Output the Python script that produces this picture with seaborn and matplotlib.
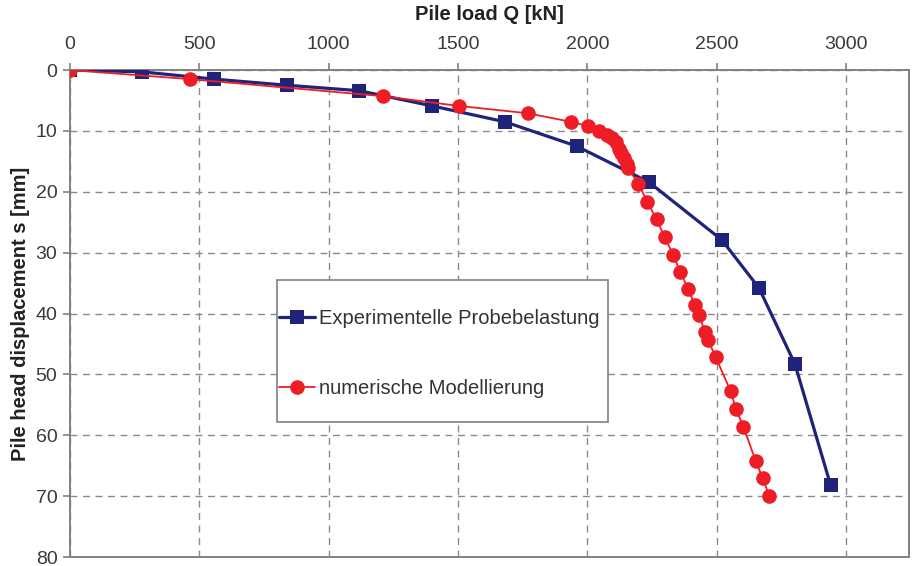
import matplotlib
matplotlib.use("Agg")
import matplotlib.pyplot as plt
from matplotlib.patches import Rectangle
import seaborn as sns
import pandas as pd

# Experimental load test (blue squares)
exp_load = [0, 278, 558, 838, 1118, 1400, 1680, 1958, 2237, 2519, 2663, 2802, 2940]
exp_disp = [0, 0.3, 1.5, 2.5, 3.4, 5.9, 8.5, 12.5, 18.4, 27.9, 35.8, 48.3, 68.2]

# Numerical modelling (red circles)
num_load = [0, 464, 1210, 1502, 1769, 1935, 2002, 2045, 2077, 2096, 2109, 2122, 2131,
            2141, 2152, 2157, 2197, 2231, 2267, 2299, 2332, 2358, 2389, 2415, 2432,
            2453, 2466, 2496, 2554, 2574, 2603, 2651, 2677, 2702]
num_disp = [0, 1.5, 4.3, 5.9, 7.1, 8.5, 9.2, 10.0, 10.7, 11.2, 11.9, 12.9, 13.7,
            14.5, 15.4, 16.1, 18.7, 21.6, 24.5, 27.5, 30.4, 33.1, 35.9, 38.6, 40.2,
            43.0, 44.3, 47.2, 52.8, 55.7, 58.6, 64.3, 67.0, 69.9]

x_ticks = [0, 500, 1000, 1500, 2000, 2500, 3000]
y_ticks = [0, 10, 20, 30, 40, 50, 60, 70, 80]
label_exp = "Experimentelle Probebelastung"
label_num = "numerische Modellierung"

sns.set_theme(style="white")
plt.rcParams['font.family'] = ['Liberation Sans', 'DejaVu Sans']

df_exp = pd.DataFrame({"Q": exp_load, "s": exp_disp})
df_num = pd.DataFrame({"Q": num_load, "s": num_disp})

fig = plt.figure(figsize=(9.17, 5.66), dpi=100)
ax = fig.add_axes([0.0763, 0.0159, 0.9150, 0.8604])

blue = "#1f237a"
red = "#ee1c25"

sns.lineplot(data=df_exp, x="Q", y="s", sort=False, ax=ax, color=blue,
             linewidth=2.3, marker="s", markersize=10, markeredgewidth=0,
             label=label_exp, zorder=3)
sns.lineplot(data=df_num, x="Q", y="s", sort=False, ax=ax, color=red,
             linewidth=1.3, marker="o", markersize=10.5, markeredgewidth=0,
             label=label_num, zorder=4)

ax.set_xlim(0, 3243)
ax.set_ylim(80, 0)
ax.set_xticks(x_ticks)
ax.set_yticks(y_ticks)
ax.xaxis.tick_top()
ax.xaxis.set_label_position("top")
ax.set_xlabel("Pile load Q [kN]", fontsize=14.5, fontweight="bold", labelpad=11, color="#222222")
ax.set_ylabel("Pile head displacement s [mm]", fontsize=14.5, fontweight="bold", labelpad=4, color="#222222")
ax.tick_params(axis="both", labelsize=14, colors="#808080", labelcolor="#3a3a3a",
               length=5, width=1.2, direction="out")
ax.tick_params(axis="x", top=True, bottom=False, pad=7.6)
ax.tick_params(axis="y", left=True, pad=4)

ax.grid(True, linestyle=(0, (5, 4)), color="#8a8a8a", linewidth=1.0)
ax.set_axisbelow(True)
for sp in ax.spines.values():
    sp.set_visible(True)
    sp.set_color("#808080")
    sp.set_linewidth(1.4)

# legend frame
ax.add_patch(Rectangle((0.2467, 0.2772), 0.3945, 0.2916, transform=ax.transAxes,
                       facecolor="white", edgecolor="#808080", linewidth=1.2, zorder=5))
leg = ax.legend(loc="upper left", bbox_to_anchor=(0.249, 0.509),
                fontsize=14.5, frameon=False,
                borderpad=0.0, labelspacing=2.55, handlelength=1.8, handletextpad=0.2,
                borderaxespad=0.0)
leg.set_zorder(6)
for t in leg.get_texts():
    t.set_color("#333333")

fig.savefig("out.png", dpi=100)
